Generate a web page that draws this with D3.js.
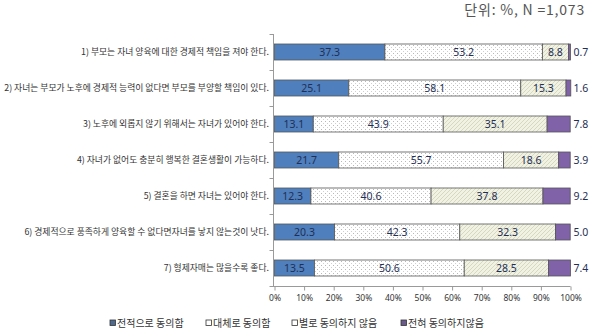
<!DOCTYPE html>
<html><head><meta charset="utf-8">
<script src="https://cdn.jsdelivr.net/npm/d3@7"></script>
<style>body{margin:0;background:#fff;}svg{display:block;}</style>
</head><body>
<script>
const categories = [
  "1) 부모는 자녀 양육에 대한 경제적 책임을 져야 한다.",
  "2) 자녀는 부모가 노후에 경제적 능력이 없다면 부모를 부양할 책임이 있다.",
  "3) 노후에 외롭지 않기 위해서는 자녀가 있어야 한다.",
  "4) 자녀가 없어도 충분히 행복한 결혼생활이 가능하다.",
  "5) 결혼을 하면 자녀는 있어야 한다.",
  "6) 경제적으로 풍족하게 양육할 수 없다면자녀를 낳지 않는것이 낫다.",
  "7) 형제자매는 많을수록 좋다."
];
const seriesNames = ["전적으로 동의함","대체로 동의함","별로 동의하지 않음","전혀 동의하지않음"];
const fullyAgree    = [37.3, 25.1, 13.1, 21.7, 12.3, 20.3, 13.5];
const mostlyAgree   = [53.2, 58.1, 43.9, 55.7, 40.6, 42.3, 50.6];
const mostlyDisagree= [8.8, 15.3, 35.1, 18.6, 37.8, 32.3, 28.5];
const fullyDisagree = [0.7, 1.6, 7.8, 3.9, 9.2, 5.0, 7.4];
const tickValues = [0,10,20,30,40,50,60,70,80,90,100];
const unitNote = "단위: %, N =1,073";

const W=600,H=335;
const svg=d3.select("body").append("svg").attr("width",W).attr("height",H);
const defs=svg.append("defs");
const dots=defs.append("pattern").attr("id","dots").attr("patternUnits","userSpaceOnUse").attr("width",4).attr("height",4);
dots.append("rect").attr("width",4).attr("height",4).attr("fill","#fff");
dots.append("rect").attr("x",1).attr("y",1).attr("width",1).attr("height",1).attr("fill","#b8b8b8");
dots.append("rect").attr("x",3).attr("y",3).attr("width",1).attr("height",1).attr("fill","#d0d0d0");
const hatch=defs.append("pattern").attr("id","hatch").attr("patternUnits","userSpaceOnUse").attr("width",4).attr("height",4);
hatch.append("rect").attr("width",4).attr("height",4).attr("fill","#f1f2e4");
hatch.append("path").attr("d","M0,4 L4,0 M-1,1 L1,-1 M3,5 L5,3").attr("stroke","#cfd3b4").attr("stroke-width",0.8);

const fills=["#4f7fbc","url(#dots)","url(#hatch)","#8062a8"];
const legendFills=["#4f6a8f","#fff","#fff","#6a5a8a"];
const series=[fullyAgree,mostlyAgree,mostlyDisagree,fullyDisagree];

const x=d3.scaleLinear().domain([0,100]).range([274.5,570.5]);
const y=d3.scaleBand().domain(categories).range([34,286]).paddingInner(0.5556).paddingOuter(0.2778);

// category labels
const font="'Noto Sans CJK KR', sans-serif";
svg.append("g").selectAll("text").data(categories).join("text")
  .attr("x",269).attr("y",d=>y(d)+y.bandwidth()/2).attr("dy","0.35em")
  .attr("text-anchor","end").attr("font-family",font).attr("font-size",8.8).attr("fill","#333").text(d=>d);

// y axis line with ticks
const ya=svg.append("g").attr("stroke","#9a9a9a").attr("stroke-width",1);
ya.append("line").attr("x1",273.5).attr("x2",273.5).attr("y1",34).attr("y2",287);
const step=y.step();
for(let i=0;i<=categories.length;i++){
  const yy=Math.round(34+i*step)+0.5;
  ya.append("line").attr("x1",269.5).attr("x2",273.5).attr("y1",yy).attr("y2",yy);
}

// x axis
const xAxis=d3.axisBottom(x).tickValues(tickValues).tickFormat(d=>d+"%").tickSize(4).tickPadding(4);
const gx=svg.append("g").attr("transform","translate(0,286.5)").call(xAxis);
gx.select(".domain").attr("stroke","#9a9a9a").attr("d","M273.5,0H570.5");
gx.selectAll(".tick line").attr("stroke","#9a9a9a");
gx.selectAll("text").attr("font-family","'Noto Sans', sans-serif").attr("font-size",8.5).attr("fill","#333");

// bars
categories.forEach((c,i)=>{
  let cum=0;
  const g=svg.append("g");
  series.forEach((s,k)=>{
    const v=s[i];
    const x0=x(cum), x1=x(cum+v);
    g.append("rect").attr("x",x0).attr("y",y(c)).attr("width",x1-x0).attr("height",y.bandwidth())
      .attr("fill",fills[k]).attr("stroke","#555").attr("stroke-width",0.8);
    if(k<3){
      g.append("text").attr("x",(x0+x1)/2).attr("y",y(c)+y.bandwidth()/2).attr("dy","0.36em")
        .attr("text-anchor","middle").attr("font-family","'Noto Sans', sans-serif").attr("font-size",10.5)
        .attr("fill","#1f2f55").text(v.toFixed(1));
    } else {
      g.append("text").attr("x",x(100)+3).attr("y",y(c)+y.bandwidth()/2).attr("dy","0.36em")
        .attr("text-anchor","start").attr("font-family","'Noto Sans', sans-serif").attr("font-size",10.5)
        .attr("fill","#1f2f55").text(v.toFixed(1));
    }
    cum+=v;
  });
});

// legend
const legX=[110,206,292,401];
const lg=svg.append("g");
seriesNames.forEach((n,k)=>{
  lg.append("rect").attr("x",legX[k]).attr("y",320).attr("width",5.5).attr("height",5.5)
    .attr("fill",legendFills[k]).attr("stroke","#333").attr("stroke-width",0.8);
  lg.append("text").attr("x",legX[k]+7).attr("y",323).attr("dy","0.36em")
    .attr("font-family",font).attr("font-size",10).attr("fill","#333").text(n);
});

// unit note
svg.append("text").attr("x",585).attr("y",15).attr("text-anchor","end")
  .attr("font-family","'Noto Sans CJK KR', sans-serif").attr("font-size",14).attr("letter-spacing",0.8).attr("fill","#555").text(unitNote);
</script>
</body></html>
